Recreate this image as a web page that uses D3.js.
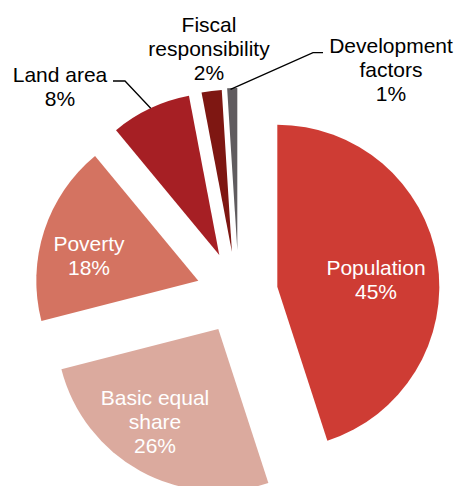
<!DOCTYPE html>
<html>
<head>
<meta charset="utf-8">
<script src="https://cdn.jsdelivr.net/npm/d3@7"></script>
<style>
  html, body { margin: 0; padding: 0; background: #fff; }
  svg { display: block; }
</style>
</head>
<body>
<svg id="chart" width="457" height="486"></svg>
<script>
// ---- data ----
const categories = ["Population", "Basic equal share", "Poverty", "Land area", "Fiscal responsibility", "Development factors"];
const shares = [45, 26, 18, 8, 2, 1];
const labelLines = [
  ["Population", "45%"],
  ["Basic equal", "share", "26%"],
  ["Poverty", "18%"],
  ["Land area", "8%"],
  ["Fiscal", "responsibility", "2%"],
  ["Development", "factors", "1%"]
];

// ---- style / layout ----
const colors = ["#CE3C34", "#DBAA9E", "#D47361", "#A61F24", "#7E1712", "#605C5F"];
const labelColors = ["#fff", "#fff", "#fff", "#000", "#000", "#000"];
const radius = 162;
const pieCenter = [237.3, 250];
// explosion offset of each slice from the pie centre
const sliceOffset = [[40, 36.7], [-19, 79], [-39, 30.7], [-18, 5], [-5.4, 1.7], [0, 0]];
// label anchor: centre x, first baseline
const labelAnchor = [[376, 275], [155, 405], [89, 251], [60, 82], [209, 32], [391, 53]];
const lineStep = 24;
// leader lines (label side -> slice)
const leaders = {
  3: [[113, 81], [125, 81], [150.7, 108.3]],
  5: [[323, 52.7], [313, 52.7], [230.5, 89.3]]
};

const svg = d3.select("#chart");
const pie = d3.pie().sort(null).value(d => d)(shares);
const arc = d3.arc().innerRadius(0).outerRadius(radius);

svg.append("g").selectAll("path")
  .data(pie)
  .join("path")
  .attr("transform", (d, i) => `translate(${pieCenter[0] + sliceOffset[i][0]},${pieCenter[1] + sliceOffset[i][1]})`)
  .attr("d", arc)
  .attr("fill", (d, i) => colors[i]);

const line = d3.line();
Object.entries(leaders).forEach(([i, pts]) => {
  svg.append("path")
    .attr("d", line(pts))
    .attr("fill", "none")
    .attr("stroke", "#000")
    .attr("stroke-width", 1.3);
});

const lg = svg.append("g")
  .attr("font-family", "'Liberation Sans', Arial, sans-serif")
  .attr("font-size", 21)
  .attr("text-anchor", "middle");

labelLines.forEach((lines, i) => {
  const t = lg.append("text")
    .attr("fill", labelColors[i])
    .attr("x", labelAnchor[i][0])
    .attr("y", labelAnchor[i][1]);
  lines.forEach((s, k) => {
    t.append("tspan")
      .attr("x", labelAnchor[i][0])
      .attr("y", labelAnchor[i][1] + k * lineStep)
      .text(s);
  });
});
</script>
</body>
</html>
